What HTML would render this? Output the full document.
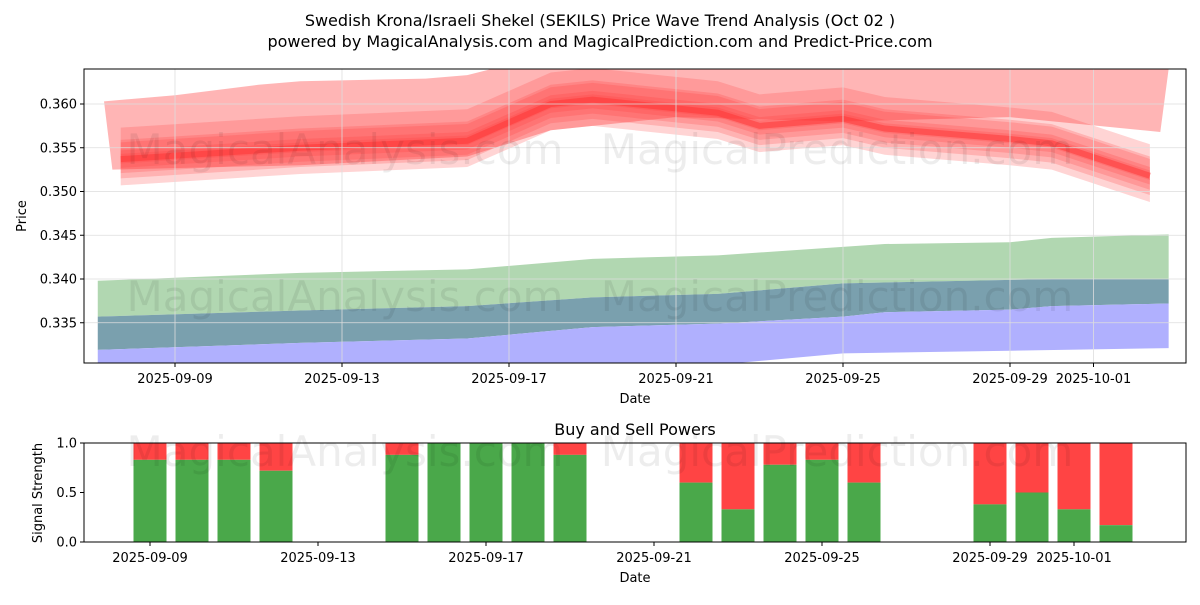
<!DOCTYPE html>
<html><head><meta charset="utf-8"><style>
body{margin:0;background:#fff;font-family:"Liberation Sans","DejaVu Sans",sans-serif}
svg text{font-family:"DejaVu Sans","Liberation Sans",sans-serif}
</style></head><body>
<svg id="c" width="1200" height="600" xmlns="http://www.w3.org/2000/svg">
<text x="600" y="26" text-anchor="middle" font-size="16">Swedish Krona/Israeli Shekel (SEKILS) Price Wave Trend Analysis (Oct 02 )</text>
<text x="600" y="47" text-anchor="middle" font-size="16">powered by MagicalAnalysis.com and MagicalPrediction.com and Predict-Price.com</text>
<defs><clipPath id="cp"><rect x="84" y="69" width="1102" height="294"/></clipPath></defs>
<g id="gtop" clip-path="url(#cp)"></g>
<g id="topaxes"></g>
<g id="bot"></g>
</svg>
<script>
// day offsets from 2025-09-07
const greenUpDays=[0.15,5,9,12,15,19,22,23,25.8];
const greenUp=[0.3398,0.3407,0.3411,0.3423,0.3427,0.3440,0.3442,0.3447,0.3451];
const midDays=[0.15,5,9,12,15,18,23,25.8];
const midVals=[0.3357,0.3364,0.3369,0.3379,0.3383,0.3395,0.3400,0.3400];
const steelLowDays=[0.15,5,9,12,15,18,19,22,23,25.8];
const steelLow=[0.3319,0.3327,0.3332,0.3345,0.3349,0.3357,0.3362,0.3365,0.3369,0.3372];
const blueLowDays=[0.15,12,15,18,22,25.8];
const blueLow=[0.3300,0.3298,0.3302,0.3315,0.3318,0.3321];
const bigUpDays=[0.3,2,4,5,8,9,10,25.8];
const bigUp=[0.3603,0.3610,0.3622,0.3626,0.3629,0.3633,0.3645,0.3640];
const bigLowDays=[0.5,5,9,11,14,18,22,25.6];
const bigLow=[0.3525,0.3530,0.3540,0.3570,0.3585,0.3580,0.3585,0.3568];
const mainDays=[0.7,5,9,11,12,15,16,18,19,22,23,25.35];
const mainVals=[0.3537,0.3550,0.3558,0.3600,0.3605,0.3590,0.3575,0.3583,0.3572,0.3560,0.3555,0.3518];
const bandWidths=[0.0030,0.0022,0.0016,0.0010,0.0005];
const yTicks=[0.335,0.340,0.345,0.350,0.355,0.360];
const xTickLabels=["2025-09-09","2025-09-13","2025-09-17","2025-09-21","2025-09-25","2025-09-29","2025-10-01"];
const xTickDays=[2,6,10,14,18,22,24];
const barDays=[2,3,4,5,8,9,10,11,12,15,16,17,18,19,22,23,24,25];
const buyVals=[0.83,0.83,0.83,0.72,0.88,1,1,1,0.88,0.6,0.33,0.78,0.83,0.6,0.38,0.5,0.33,0.17];

const NS="http://www.w3.org/2000/svg";
function mk(tag,attrs,parent,txt){const e=document.createElementNS(NS,tag);for(const k in attrs)e.setAttribute(k,attrs[k]);if(txt!==undefined)e.textContent=txt;parent.appendChild(e);return e;}
const xT=d=>91.5+41.75*d;
const yT=v=>104+(0.360-v)*8750;
const xB=d=>150+42*(d-2);
const yB=v=>542-99*v;
const gTop=document.getElementById('gtop'),gAxes=document.getElementById('topaxes'),gBot=document.getElementById('bot');
function pts(days,vals){return days.map((d,i)=>xT(d)+","+yT(vals[i]));}
function poly(uD,uV,lD,lV,fill,name){
  const p=pts(uD,uV).concat(pts(lD,lV).reverse()).join(" ");
  const e=mk('polygon',{points:p,fill:fill},gTop);
  
  
}
poly(greenUpDays,greenUp,midDays,midVals,'#b1d7b1','green-band');
poly(midDays,midVals,steelLowDays,steelLow,'#7aa0ae','overlap-band');
poly(steelLowDays,steelLow,blueLowDays,blueLow,'#b0b0fe','blue-band');
poly(bigUpDays,bigUp,bigLowDays,bigLow,'rgba(255,90,90,0.45)','red-outer-band');
bandWidths.forEach((w,j)=>{
  const up=mainVals.map(v=>v+w*(j%2?1:1.2)), lo=mainVals.map(v=>v-w);
  poly(mainDays,up,mainDays,lo,'rgba(255,60,60,0.22)','red-band-'+j);
});
const ml=mk('polyline',{points:pts(mainDays,mainVals).join(" "),fill:'none',stroke:'rgba(255,50,50,0.5)','stroke-width':6},gTop);


[[345,150],[837,150],[345,297],[837,297],[345,452],[837,452]].forEach((p,i)=>{
  const t=mk('text',{x:p[0],y:p[1]+14,'text-anchor':'middle','font-size':42,fill:'rgba(0,0,0,0.07)'},document.getElementById('c'),i%2?'MagicalPrediction.com':'MagicalAnalysis.com');
  
  
});
yTicks.forEach(v=>{
  mk('line',{x1:84,x2:1186,y1:yT(v),y2:yT(v),stroke:'#ddd','stroke-width':0.8},gAxes);
  mk('line',{x1:80,x2:84,y1:yT(v),y2:yT(v),stroke:'#000'},gAxes);
  const t=mk('text',{x:77,y:yT(v)+4.5,'text-anchor':'end','font-size':13},gAxes,v.toFixed(3));
  
  
});
xTickDays.forEach((d,i)=>{
  mk('line',{x1:xT(d),x2:xT(d),y1:69,y2:363,stroke:'#ddd','stroke-width':0.8},gAxes);
  mk('line',{x1:xT(d),x2:xT(d),y1:363,y2:367,stroke:'#000'},gAxes);
  const t=mk('text',{x:xT(d),y:383,'text-anchor':'middle','font-size':13},gAxes,xTickLabels[i]);
  
  
});
mk('rect',{x:84,y:69,width:1102,height:294,fill:'none',stroke:'#000','stroke-width':1},gAxes);
mk('text',{x:635,y:403,'text-anchor':'middle','font-size':13},gAxes,'Date');
mk('text',{x:26,y:216,'text-anchor':'middle','font-size':13,transform:'rotate(-90 26 216)'},gAxes,'Price');
mk('text',{x:635,y:435,'text-anchor':'middle','font-size':16},gBot,'Buy and Sell Powers');
barDays.forEach((d,i)=>{
  const x=xB(d)-16.5;
  const s=mk('rect',{x:x,y:yB(1),width:33,height:yB(buyVals[i])-yB(1),fill:'#ff4444'},gBot);
  
  
  const b=mk('rect',{x:x,y:yB(buyVals[i]),width:33,height:yB(0)-yB(buyVals[i]),fill:'#4aa84a'},gBot);
  
  
});
[0,0.5,1].forEach(v=>{
  mk('line',{x1:80,x2:84,y1:yB(v),y2:yB(v),stroke:'#000'},gBot);
  mk('text',{x:77,y:yB(v)+4.5,'text-anchor':'end','font-size':13},gBot,v.toFixed(1));
});
xTickDays.forEach((d,i)=>{
  mk('line',{x1:xB(d),x2:xB(d),y1:542,y2:546,stroke:'#000'},gBot);
  mk('text',{x:xB(d),y:562,'text-anchor':'middle','font-size':13},gBot,xTickLabels[i]);
});
mk('rect',{x:84,y:443,width:1102,height:99,fill:'none',stroke:'#000','stroke-width':1},gBot);
mk('text',{x:635,y:582,'text-anchor':'middle','font-size':13},gBot,'Date');
mk('text',{x:42,y:493,'text-anchor':'middle','font-size':13,transform:'rotate(-90 42 493)'},gBot,'Signal Strength');
</script>
</body></html>
